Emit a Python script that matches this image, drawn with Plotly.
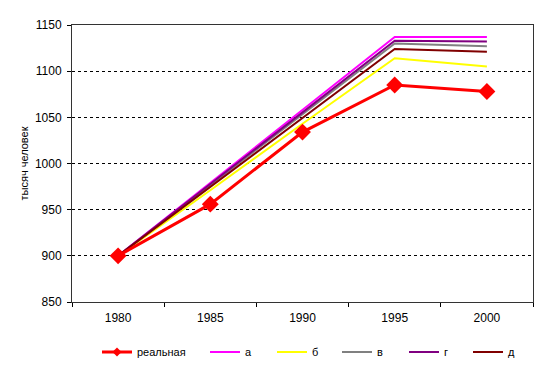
import plotly.graph_objects as go

years = ["1980", "1985", "1990", "1995", "2000"]
real = [900, 956, 1034, 1085, 1078]
a = [900, 979, 1058, 1137, 1137]
b = [900, 971, 1043, 1114, 1105]
v = [900, 977, 1053, 1130, 1127]
g = [900, 978, 1056, 1133, 1132]
d = [900, 975, 1050, 1124, 1121]

names = ["реальная", "а", "б", "в", "г", "д"]
series = [real, a, b, v, g, d]
colors = ["#FF0000", "#FF00FF", "#FFFF00", "#808080", "#800080", "#800000"]
legend_x_px = [102, 210, 277, 342, 409, 473]

L, R, T, B = 72, 15, 25, 65
W, H = 548, 367
pw = W - L - R
ph = H - T - B

fig = go.Figure()
order = [1, 2, 3, 4, 5, 0]
for i in order:
    lg = "legend" if i == 0 else f"legend{i+1}"
    if i == 0:
        fig.add_trace(go.Scatter(x=years, y=series[i], name=names[i], mode="lines+markers",
                                 line=dict(color=colors[i], width=3),
                                 marker=dict(symbol="diamond", size=13, color=colors[i]),
                                 legendgroup="real", showlegend=False))
        fig.add_trace(go.Scatter(x=[None], y=[None], name=names[i], mode="lines+markers",
                                 line=dict(color=colors[i], width=3),
                                 marker=dict(symbol="diamond", size=7, color=colors[i]),
                                 legendgroup="real", legend=lg))
    else:
        fig.add_trace(go.Scatter(x=years, y=series[i], name=names[i], mode="lines",
                                 line=dict(color=colors[i], width=2), legend=lg))

layout_legends = {}
for i in range(6):
    key = "legend" if i == 0 else f"legend{i+1}"
    layout_legends[key] = dict(
        x=(legend_x_px[i] - 5 - L) / pw, xanchor="left",
        y=(T + ph - 352) / ph, yanchor="middle",
        bgcolor="rgba(0,0,0,0)", borderwidth=0,
        font=dict(family="Liberation Sans, Arial", size=11, color="black"),
        itemwidth=30,
    )

fig.update_layout(
    width=W, height=H,
    margin=dict(l=L, r=R, t=T, b=B, autoexpand=False),
    paper_bgcolor="white", plot_bgcolor="white",
    font=dict(family="Liberation Sans, Arial", size=11, color="black"),
    showlegend=True,
    **layout_legends,
)
fig.update_xaxes(type="category", range=[-0.5, 4.5], showgrid=False,
                 ticks="outside", tickson="boundaries", ticklen=4, tickcolor="black",
                 showline=True, linecolor="#333333", linewidth=1, mirror=True,
                 tickfont=dict(size=12), ticklabelstandoff=5, automargin=False)
fig.update_yaxes(range=[850, 1150], dtick=50, showgrid=True, gridcolor="black",
                 griddash="3px,3px", gridwidth=1, ticks="outside", ticklen=4, tickcolor="black",
                 showline=True, linecolor="#333333", linewidth=1, mirror=True, zeroline=False,
                 title=dict(text="тысяч человек", font=dict(size=11), standoff=4),
                 tickfont=dict(size=12), ticklabelstandoff=3, automargin=False)

fig.write_html("out.html", config={"displayModeBar": False},
               post_script="document.body.style.margin='0px';document.body.style.overflow='hidden';")
